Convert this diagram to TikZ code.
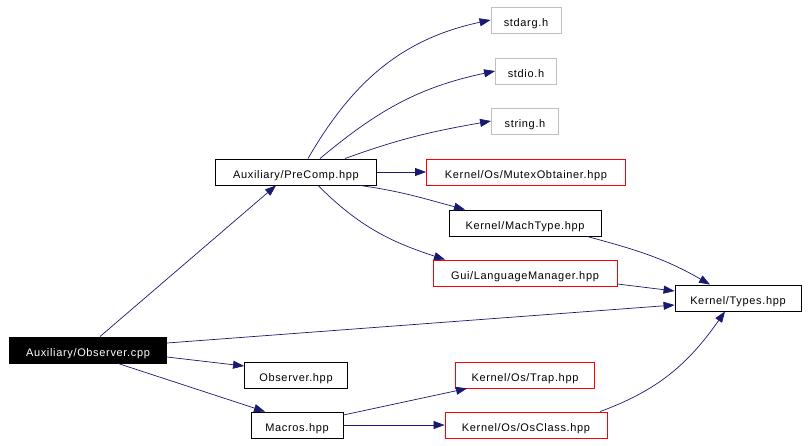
\documentclass[tikz,border=0pt]{standalone}
\usepackage{fontspec}
\setmainfont{Liberation Sans}[LetterSpace=6]
\usetikzlibrary{arrows.meta,positioning}
\definecolor{edgeblue}{HTML}{191970}
\definecolor{sysgrey}{HTML}{BFBFBF}

\begin{document}
\begin{tikzpicture}[
        x=1pt, y=-1pt,
        box/.style={rectangle,draw=black,line width=0.9pt,inner sep=0pt,minimum height=26pt,text height=13pt,text depth=0pt,align=center,font=\fontsize{11}{13}\selectfont},
        redbox/.style={box,draw=red},
        sysbox/.style={box,draw=sysgrey},
        rootbox/.style={box,fill=black,text=white},
        arrow/.style={-{Triangle[length=11pt,width=8pt,fill=edgeblue]},draw=edgeblue,line width=0.7pt}
    ]
        \useasboundingbox (0,0) rectangle (808,445);

        \node[rootbox, minimum width=157pt] (observercpp) at (88,350) {Auxiliary/Observer.cpp};
        \node[box, minimum width=161pt] (precomp) at (296,172) {Auxiliary/PreComp.hpp};
        \node[box, minimum width=103pt] (observerhpp) at (296,375) {Observer.hpp};
        \node[box, minimum width=92pt] (macros) at (297,425) {Macros.hpp};
        \node[sysbox, minimum width=70pt] (stdarg) at (526,20) {stdarg.h};
        \node[sysbox, minimum width=61pt] (stdio) at (526,71) {stdio.h};
        \node[sysbox, minimum width=67pt] (string) at (525,121) {string.h};
        \node[redbox, minimum width=199pt] (mutex) at (526,172) {Kernel/Os/MutexObtainer.hpp};
        \node[box, minimum width=152pt] (machtype) at (525,223) {Kernel/MachType.hpp};
        \node[redbox, minimum width=184pt] (langmgr) at (525,273) {Gui/LanguageManager.hpp};
        \node[box, minimum width=126pt] (types) at (738,298) {Kernel/Types.hpp};
        \node[redbox, minimum width=139pt] (trap) at (525,375) {Kernel/Os/Trap.hpp};
        \node[redbox, minimum width=162pt] (osclass) at (526,425) {Kernel/Os/OsClass.hpp};

        \draw[arrow] ([xshift=12pt]observercpp.north) -- ([xshift=-20pt]precomp.south);
        \draw[arrow] ([yshift=7pt]observercpp.east) -- ([yshift=-7pt]types.west);
        \draw[arrow] ([yshift=-7pt]observercpp.east) -- ([yshift=9pt]observerhpp.west);
        \draw[arrow] ([xshift=30pt]observercpp.south) -- ([xshift=-32pt]macros.north);

        \draw[arrow] ([xshift=12pt]precomp.north) to[out=60,in=192] (stdarg.west);
        \draw[arrow] ([xshift=24pt]precomp.north) to[out=40,in=192] (stdio.west);
        \draw[arrow] ([xshift=49pt]precomp.north) to[out=20,in=190] (string.west);
        \draw[arrow] (precomp.east) -- (mutex.west);
        \draw[arrow] ([xshift=64pt]precomp.south) to[out=-8,in=165] ([xshift=-60pt]machtype.north);
        \draw[arrow] ([xshift=22pt]precomp.south) to[out=-45,in=162] ([xshift=-80pt]langmgr.north);

        \draw[arrow] ([xshift=62pt]machtype.south) to[out=-15,in=150] ([xshift=-28pt]types.north);
        \draw[arrow] ([yshift=-11pt]langmgr.east) -- ([yshift=7pt]types.west);
        \draw[arrow] ([yshift=10pt]macros.east) -- ([xshift=12pt]trap.south west);
        \draw[arrow] (macros.east) -- (osclass.west);
        \draw[arrow] ([xshift=74pt]osclass.north) to[out=20,in=-125] ([xshift=-13pt]types.south);
    \end{tikzpicture}
\end{document}
